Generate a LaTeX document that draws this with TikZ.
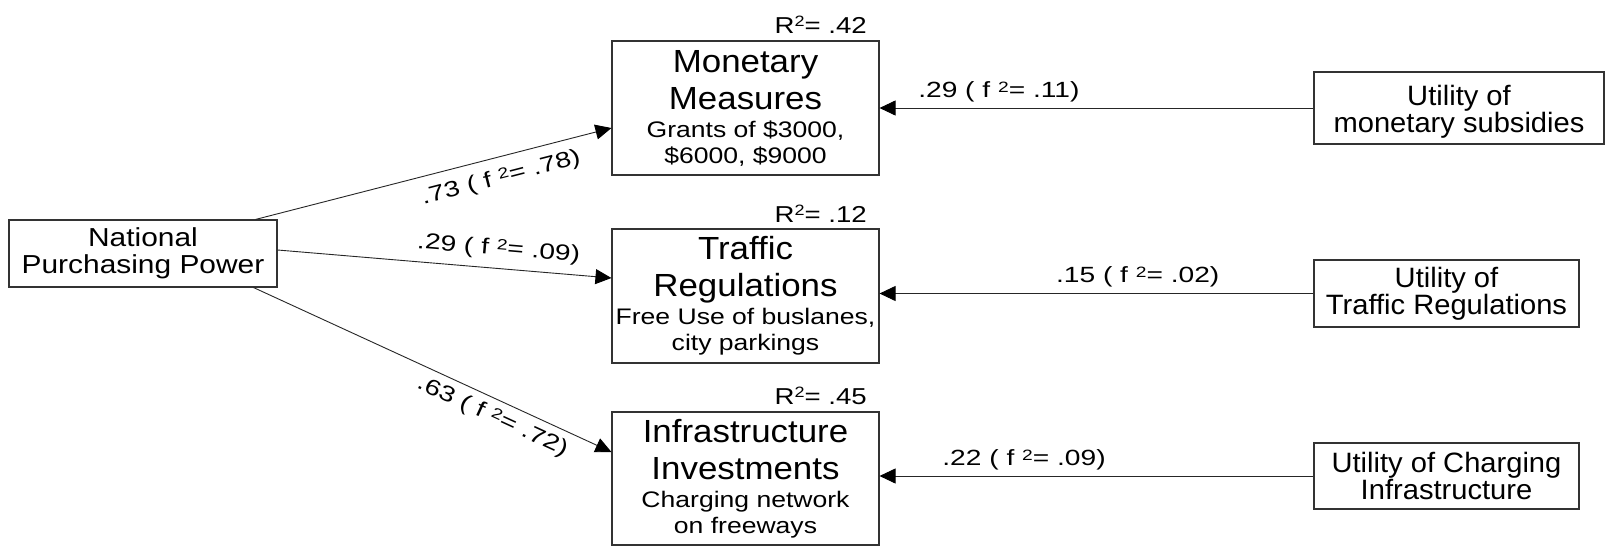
\documentclass[tikz,border=0pt]{standalone}
\usepackage{fontspec}
\setmainfont{Liberation Sans}
\newfontfamily\titlefont[FakeStretch=1.09]{Liberation Sans}
\newfontfamily\subfont[FakeStretch=1.18]{Liberation Sans}
\newfontfamily\nppfont[FakeStretch=1.15]{Liberation Sans}
\newfontfamily\utilfont[FakeStretch=1.04]{Liberation Sans}
\newfontfamily\lblfont[FakeStretch=1.28]{Liberation Sans}
\newfontfamily\rsqfont[FakeStretch=1.2]{Liberation Sans}
\usetikzlibrary{arrows.meta}
\newcommand{\supx}[2]{\raisebox{#1}{\fontsize{#2}{#2}\selectfont 2}}
\newcommand{\subtxt}[1]{{\subfont\fontsize{22.5}{26}\selectfont #1}}
\begin{document}
\begin{tikzpicture}[x=1pt,y=-1pt,
  box/.style={draw=black!80, line width=1.1pt, inner sep=0pt, align=center},
  mainbox/.style={box, minimum width=267pt, minimum height=134pt, font=\titlefont\fontsize{32}{37}\selectfont},
  nppbox/.style={box, minimum width=268pt, minimum height=67pt, font=\nppfont\fontsize{26}{27}\selectfont},
  ubox/.style={box, minimum height=66pt, font=\utilfont\fontsize{28}{26}\selectfont},
  utext/.style={inner sep=0pt, align=center, font=\utilfont\fontsize{28}{26}\selectfont},
  conn/.style={draw=black!85, line width=0.9pt, -{Triangle[length=16pt,width=15pt,color=black]}},
  elbl/.style={inner sep=0pt, font=\lblfont\fontsize{22}{24}\selectfont},
  rlbl/.style={inner sep=0pt, anchor=base east, font=\rsqfont\fontsize{23}{25}\selectfont}
]
\path[fill=white] (0,0) rectangle (1608,546);
\useasboundingbox (0,0) rectangle (1608,546);

\node[nppbox] (npp) at (143,253.5) {National\\Purchasing Power};
\node[mainbox] (m1) at (745.5,108) {Monetary\\Measures\\[-9pt]\subtxt{Grants of \$3000,}\\[-11pt]\subtxt{\$6000, \$9000}};
\node[mainbox] (m2) at (745.5,296) {Traffic\\Regulations\\[-9pt]\subtxt{Free Use of buslanes,}\\[-11pt]\subtxt{city parkings}};
\node[mainbox, minimum height=133pt] (m3) at (745.5,478.5) {Infrastructure\\Investments\\[-9pt]\subtxt{Charging network}\\[-11pt]\subtxt{on freeways}};

\node[rlbl] (r1) at (867,33) {R\supx{7pt}{15}= .42};
\node[rlbl] (r2) at (867,222) {R\supx{7pt}{15}= .12};
\node[rlbl] (r3) at (867,404) {R\supx{7pt}{15}= .45};

\node[box, minimum width=290pt, minimum height=72pt] (u1) at (1459,108) {};
\node[utext, anchor=north] (u1t) at (1459,85) {Utility of\\monetary subsidies};
\node[ubox, minimum width=265pt, minimum height=67pt] (u2) at (1446.5,293.5) {Utility of\\Traffic Regulations};
\node[ubox, minimum width=265pt] (u3) at (1446.5,476) {Utility of Charging\\Infrastructure};

\draw[conn] ([xshift=-22pt]npp.north east) -- node[elbl, sloped, below=10.5pt, pos=0.675] (l1) {.73 ( f \supx{5pt}{15}= .78)} ([yshift=-20pt]m1.west);
\draw[conn] ([yshift=3.5pt]npp.east) -- node[elbl, sloped, above=8.5pt, pos=0.657] (l2) {.29 ( f \supx{5pt}{15}= .09)} ([yshift=18pt]m2.west);
\draw[conn] ([xshift=-24pt]npp.south east) -- node[elbl, sloped, below=7pt, pos=0.688] (l3) {.63 ( f \supx{5pt}{15}= .72)} ([yshift=26.5pt]m3.west);

\draw[conn] (u1.west) -- node[elbl, anchor=base, yshift=11pt, pos=0.725] (l4) {.29 ( f \supx{5pt}{15}= .11)} (u1.west -| m1.east);
\draw[conn] (u2.west) -- node[elbl, anchor=base, yshift=11.5pt, pos=0.405] (l5) {.15 ( f \supx{5pt}{15}= .02)} (u2.west -| m2.east);
\draw[conn] (u3.west) -- node[elbl, anchor=base, yshift=11pt, pos=0.667] (l6) {.22 ( f \supx{5pt}{15}= .09)} (u3.west -| m3.east);
\end{tikzpicture}
\end{document}
